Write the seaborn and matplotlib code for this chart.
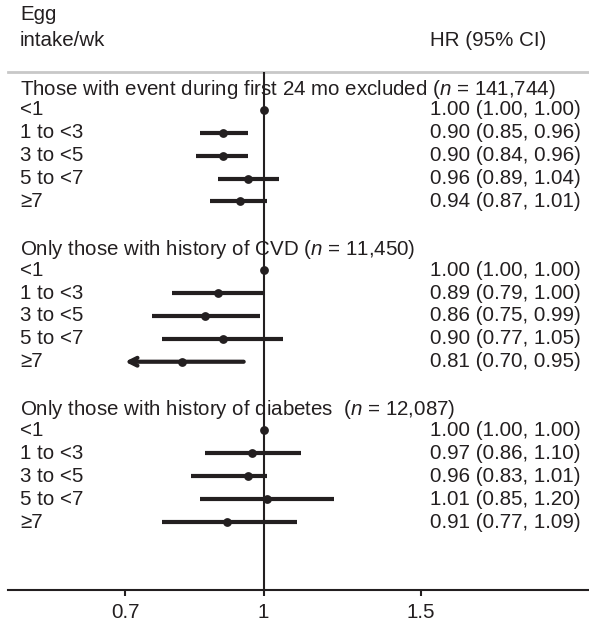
import numpy as np
import pandas as pd
import matplotlib.pyplot as plt
import seaborn as sns

# Forest plot: egg intake and HR, sensitivity analyses
groups = ['Those with event during first 24 mo excluded ($n$ = 141,744)',
          'Only those with history of CVD ($n$ = 11,450)',
          'Only those with history of diabetes  ($n$ = 12,087)']
intake = ['<1', '1 to <3', '3 to <5', '5 to <7', '≥7']

hr = [[1.00, 0.90, 0.90, 0.96, 0.94],
      [1.00, 0.89, 0.86, 0.90, 0.81],
      [1.00, 0.97, 0.96, 1.01, 0.91]]
ci_lo = [[1.00, 0.85, 0.84, 0.89, 0.87],
         [1.00, 0.79, 0.75, 0.77, 0.70],
         [1.00, 0.86, 0.83, 0.85, 0.77]]
ci_hi = [[1.00, 0.96, 0.96, 1.04, 1.01],
         [1.00, 1.00, 0.99, 1.05, 0.95],
         [1.00, 1.10, 1.01, 1.20, 1.09]]

xticks = [0.7, 1, 1.5]
xtick_labels = ['0.7', '1', '1.5']
arrow_cut = 0.70  # CIs reaching this bound are drawn with an arrow

rows = []
for g in range(len(groups)):
    for i, lab in enumerate(intake):
        rows.append({'group': g, 'intake': lab, 'hr': hr[g][i],
                     'lo': ci_lo[g][i], 'hi': ci_hi[g][i],
                     'pos': g * 7 + 1 + i})
df = pd.DataFrame(rows)

sns.set_style('white')
plt.rcParams['font.family'] = ['Liberation Sans', 'DejaVu Sans']
plt.rcParams['mathtext.fontset'] = 'custom'
plt.rcParams['mathtext.rm'] = 'Liberation Sans'
plt.rcParams['mathtext.it'] = 'Liberation Sans:italic'

ink = '#231f20'
fs = 14.8

fig = plt.figure(figsize=(5.89, 6.25), dpi=100)
ax = fig.add_axes([8 / 589, 35 / 625, 581 / 589, 518 / 625])

ax.set_xscale('log')
ax.set_xlim(0.518, 2.31)
ax.set_ylim(21.97, -0.655)

# confidence intervals
normal = df[df['lo'] > arrow_cut]
ax.hlines(normal['pos'], normal['lo'], normal['hi'], color=ink, lw=3, zorder=2)
for _, r in df[df['lo'] <= arrow_cut].iterrows():
    ax.annotate('', xy=(r['lo'], r['pos']), xytext=(r['hi'], r['pos']),
                arrowprops=dict(arrowstyle='->', lw=3, color=ink,
                                mutation_scale=14, shrinkA=0, shrinkB=0))

sns.scatterplot(data=df, x='hr', y='pos', color=ink, s=40, linewidth=0,
                zorder=3, ax=ax, legend=False)

ax.axvline(1, color=ink, lw=1.5, zorder=4)

# row labels
tr = ax.get_yaxis_transform()
for g, title in enumerate(groups):
    ax.text(12 / 581, g * 7 + 0.1, title, transform=tr, ha='left', va='center',
            fontsize=fs, color=ink)
for _, r in df.iterrows():
    ax.text(12 / 581, r['pos'], r['intake'], transform=tr, ha='left',
            va='center', fontsize=fs, color=ink)
    ax.text(422 / 581, r['pos'], f"{r['hr']:.2f} ({r['lo']:.2f}, {r['hi']:.2f})",
            transform=tr, ha='left', va='center', fontsize=fs, color=ink)

# headers
fig.text(20 / 589, 1 - 15 / 625, 'Egg', ha='left', va='center', fontsize=fs, color=ink)
fig.text(20 / 589, 1 - 40 / 625, 'intake/wk', ha='left', va='center', fontsize=fs, color=ink)
fig.text(430 / 589, 1 - 40 / 625, 'HR (95% CI)', ha='left', va='center', fontsize=fs, color=ink)

# axes styling
ax.set_xticks(xticks)
ax.set_xticklabels(xtick_labels)
ax.xaxis.set_minor_locator(plt.NullLocator())
ax.set_yticks([])
ax.set_xlabel('')
ax.set_ylabel('')
for s in ['left', 'right']:
    ax.spines[s].set_visible(False)
ax.spines['top'].set_color('#c8c8c8')
ax.spines['top'].set_linewidth(2)
ax.spines['bottom'].set_color(ink)
ax.spines['bottom'].set_linewidth(1.5)
ax.tick_params(axis='x', direction='out', length=4, width=1.5, color=ink,
               labelsize=fs, labelcolor=ink, pad=5, bottom=True)

fig.savefig('out.png', dpi=100)
